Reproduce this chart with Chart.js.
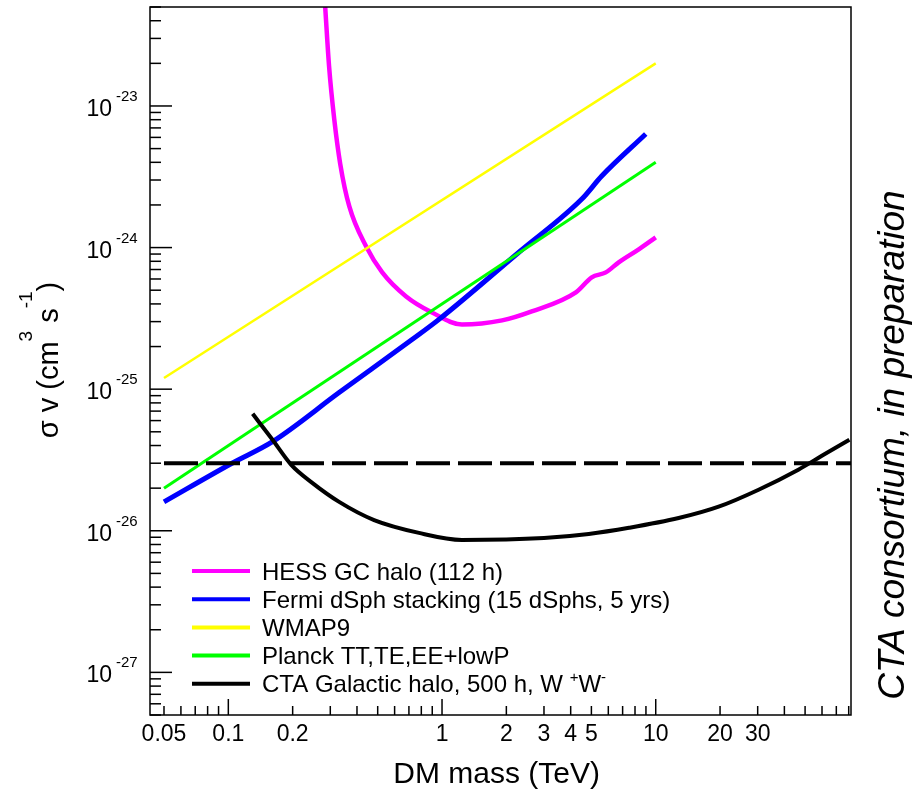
<!DOCTYPE html>
<html>
<head>
<meta charset="utf-8">
<script src="https://cdn.jsdelivr.net/npm/chart.js@4.4.1/dist/chart.umd.min.js"></script>
<style>
  html, body { margin: 0; padding: 0; background: #fff; }
  #wrap { width: 914px; height: 789px; }
</style>
</head>
<body>
<div id="wrap"><canvas id="limits" width="914" height="789"></canvas></div>
<script>
const FONT = '"Liberation Sans", Arial, Helvetica, sans-serif';

// axis ranges (TeV, cm^3 s^-1)
const massMin = 0.043, massMax = 82;
const sigmaMin = 5e-28, sigmaMax = 5e-23;

const massLabels = [0.05, 0.1, 0.2, 1, 2, 3, 4, 5, 10, 20, 30];
const sigmaDecades = [-27, -26, -25, -24, -23];

// HESS Galactic Centre halo, 112 h
const hessMass  = [0.284, 0.296, 0.313, 0.334, 0.368, 0.441, 0.525, 0.679, 0.898, 1.24, 1.91, 2.63, 4.23, 5.02, 5.84, 6.71, 8.33, 10];
const hessSigma = [5.0e-23, 1.92e-23, 8.09e-24, 3.89e-24, 1.96e-24, 1.02e-24, 6.68e-25, 4.52e-25, 3.48e-25, 2.86e-25, 3.06e-25, 3.54e-25, 4.83e-25, 6.17e-25, 6.68e-25, 7.87e-25, 9.72e-25, 1.18e-24];

// Fermi dSph stacking
const fermiMass  = [0.05, 0.104, 0.161, 0.33, 0.724, 0.968, 2.29, 4.51, 5.59, 8.98];
const fermiSigma = [1.6e-26, 3.0e-26, 4.26e-26, 9.46e-26, 2.24e-25, 3.11e-25, 9.27e-25, 2.2e-24, 3.2e-24, 6.34e-24];

// WMAP9 and Planck
const wmapMass = [0.05, 10];
const wmapSigma = [1.2e-25, 2.0e-23];
const planckMass = [0.05, 10];
const planckSigma = [2.0e-26, 4.0e-24];

// CTA Galactic halo, 500 h, W+W-
const ctaMass  = [0.13, 0.161, 0.197, 0.247, 0.33, 0.481, 0.78, 1.24, 3.0, 4.86, 7.5, 12.8, 19.7, 30.3, 46.5, 61, 80.6];
const ctaSigma = [6.7e-26, 4.39e-26, 2.92e-26, 2.18e-26, 1.6e-26, 1.19e-26, 9.66e-27, 8.62e-27, 8.9e-27, 9.5e-27, 1.05e-26, 1.23e-26, 1.48e-26, 1.95e-26, 2.7e-26, 3.44e-26, 4.4e-26];

// thermal relic cross-section
const relicMass = [0.05, massMax];
const relicSigma = [3e-26, 3e-26];

const pts = (xs, ys) => xs.map((x, i) => ({ x, y: ys[i] }));

// text with ROOT-style ^{...} superscripts, y is the baseline
function drawRich(ctx, text, x, y, size, opts = {}) {
  const supSize = opts.supSize || Math.round(size * 0.62);
  const rise = opts.rise || size * 0.5;
  const parts = [];
  const re = /\^\{([^}]*)\}/g;
  let last = 0, m;
  while ((m = re.exec(text))) {
    if (m.index > last) parts.push({ t: text.slice(last, m.index), sup: false });
    parts.push({ t: m[1], sup: true });
    last = re.lastIndex;
  }
  if (last < text.length) parts.push({ t: text.slice(last), sup: false });
  const style = opts.style ? opts.style + ' ' : '';
  const widths = parts.map(p => {
    ctx.font = `${style}${p.sup ? supSize : size}px ${FONT}`;
    return ctx.measureText(p.t).width;
  });
  const total = widths.reduce((s, w) => s + w, 0);
  let cx = opts.align === 'center' ? x - total / 2 : opts.align === 'right' ? x - total : x;
  ctx.textAlign = 'left';
  ctx.textBaseline = 'alphabetic';
  parts.forEach((p, i) => {
    ctx.font = `${style}${p.sup ? supSize : size}px ${FONT}`;
    ctx.fillText(p.t, cx, p.sup ? y - rise : y);
    cx += widths[i];
  });
}

const frame = {
  id: 'frame',
  afterDatasetsDraw(chart) {
    const { ctx, chartArea: a, scales: { x, y } } = chart;
    ctx.save();
    ctx.strokeStyle = '#000';
    ctx.fillStyle = '#000';
    ctx.lineWidth = 1.5;
    ctx.strokeRect(a.left, a.top, a.right - a.left, a.bottom - a.top);

    const tick = (x1, y1, x2, y2) => { ctx.beginPath(); ctx.moveTo(x1, y1); ctx.lineTo(x2, y2); ctx.stroke(); };

    // x ticks, pointing into the frame
    for (let d = -2; d <= 1; d++) {
      for (let k = 1; k <= 9; k++) {
        const v = k * Math.pow(10, d);
        if (v < massMin || v > massMax) continue;
        const px = x.getPixelForValue(v);
        tick(px, a.bottom, px, a.bottom - (k === 1 ? 16 : 9));
      }
    }
    // y ticks
    for (let d = -28; d <= -23; d++) {
      for (let k = 1; k <= 9; k++) {
        const v = k * Math.pow(10, d);
        if (v < sigmaMin * 0.999 || v > sigmaMax * 1.001) continue;
        const py = y.getPixelForValue(v);
        tick(a.left, py, a.left + (k === 1 ? 22 : 11), py);
      }
    }

    // x tick labels
    ctx.font = `23px ${FONT}`;
    ctx.textAlign = 'center';
    ctx.textBaseline = 'alphabetic';
    massLabels.forEach(v => ctx.fillText(String(v), x.getPixelForValue(v), a.bottom + 26));

    // y tick labels: 10 with raised exponent
    sigmaDecades.forEach(e => {
      const py = y.getPixelForValue(Math.pow(10, e));
      ctx.font = `23px ${FONT}`;
      ctx.textAlign = 'right';
      ctx.fillText('10', 112, py + 10);
      ctx.font = `15px ${FONT}`;
      ctx.textAlign = 'left';
      ctx.fillText(String(e), 116, py - 5);
    });

    // axis titles
    drawRich(ctx, 'DM mass (TeV)', 600, a.bottom + 68, 30, { align: 'right' });
    ctx.save();
    ctx.translate(58, 360);
    ctx.rotate(-Math.PI / 2);
    drawRich(ctx, 'σ v (cm^{3} s^{-1})', 0, 0, 29, { align: 'center', supSize: 19, rise: 26 });
    ctx.restore();

    // side note
    ctx.save();
    ctx.translate(904, 445);
    ctx.rotate(-Math.PI / 2);
    drawRich(ctx, 'CTA consortium, in preparation', 0, 0, 37, { align: 'center', style: 'italic' });
    ctx.restore();

    // legend
    const rows = chart.data.datasets.filter(ds => ds.label);
    rows.forEach((ds, i) => {
      const ry = 571 + i * 28.2;
      ctx.strokeStyle = ds.borderColor;
      ctx.lineWidth = 4;
      tick(192, ry, 250, ry);
      ctx.fillStyle = '#000';
      drawRich(ctx, ds.label, 262, ry + 8.5, 24, { supSize: 15, rise: 10 });
    });
    ctx.restore();
  }
};

new Chart(document.getElementById('limits'), {
  type: 'line',
  data: {
    datasets: [
      { label: 'HESS GC halo (112 h)', data: pts(hessMass, hessSigma), borderColor: '#ff00ff', borderWidth: 4.5, cubicInterpolationMode: 'monotone', order: 5 },
      { label: 'Fermi dSph stacking (15 dSphs, 5 yrs)', data: pts(fermiMass, fermiSigma), borderColor: '#0000ff', borderWidth: 5, cubicInterpolationMode: 'monotone', order: 4 },
      { label: 'WMAP9', data: pts(wmapMass, wmapSigma), borderColor: '#ffff00', borderWidth: 2.5, order: 3 },
      { label: 'Planck TT,TE,EE+lowP', data: pts(planckMass, planckSigma), borderColor: '#00ff00', borderWidth: 3, order: 2 },
      { label: 'CTA Galactic halo, 500 h, W ^{+}W^{-}', data: pts(ctaMass, ctaSigma), borderColor: '#000000', borderWidth: 4, cubicInterpolationMode: 'monotone', order: 1 },
      { data: pts(relicMass, relicSigma), borderColor: '#000000', borderWidth: 4, borderDash: [34, 8], order: 0 }
    ]
  },
  options: {
    responsive: false,
    animation: false,
    layout: { padding: { left: 150, right: 63, top: 7, bottom: 74 } },
    elements: { point: { radius: 0 } },
    plugins: { legend: { display: false }, tooltip: { enabled: false } },
    scales: {
      x: { type: 'logarithmic', min: massMin, max: massMax, display: false },
      y: { type: 'logarithmic', min: sigmaMin, max: sigmaMax, display: false }
    }
  },
  plugins: [frame]
});
</script>
</body>
</html>
